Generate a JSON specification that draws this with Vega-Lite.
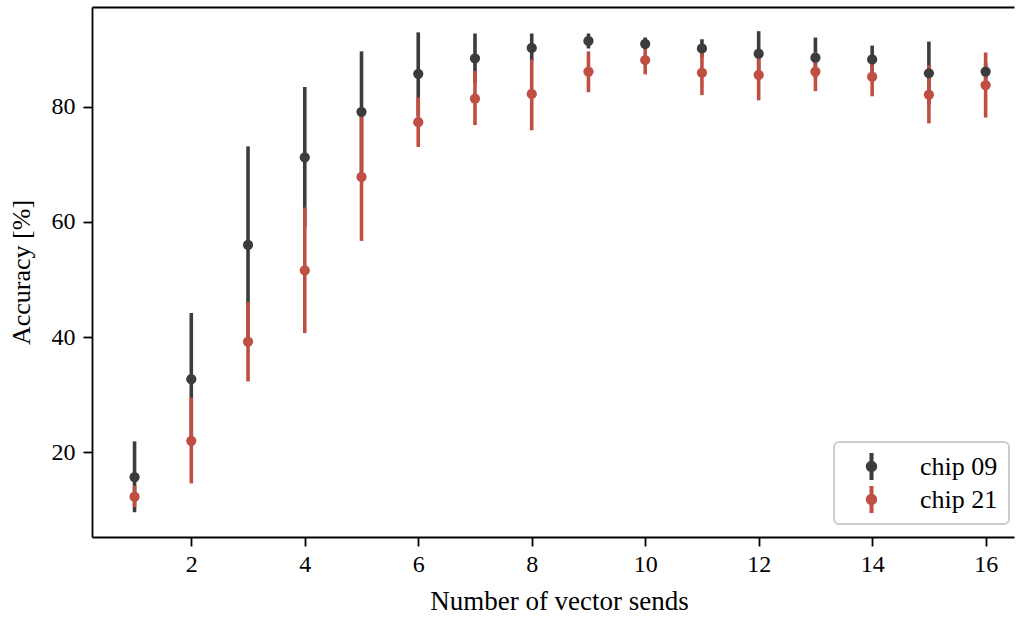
{
  "$schema": "https://vega.github.io/schema/vega-lite/v6.json",
  "autosize": {"type": "none"},
  "padding": {"left": 92, "top": 7, "right": 2, "bottom": 80},
  "width": 922,
  "height": 530,
  "background": "white",
  "config": {
    "view": {"stroke": null},
    "font": "Liberation Serif",
    "axis": {
      "grid": false,
      "domainColor": "black",
      "domainWidth": 1.8,
      "tickColor": "black",
      "tickWidth": 1.8,
      "tickSize": 9,
      "labelFont": "Liberation Serif",
      "labelFontSize": 24,
      "labelColor": "black",
      "titleFont": "Liberation Serif",
      "titleFontSize": 24,
      "titleFontWeight": "normal",
      "titleColor": "black"
    },
    "legend": {
      "labelFont": "Liberation Serif",
      "labelFontSize": 26,
      "labelColor": "black",
      "strokeColor": "#cccccc",
      "strokeWidth": 2,
      "cornerRadius": 5,
      "fillColor": "white",
      "padding": 11,
      "rowPadding": 6
    }
  },
  "data": {
    "values": [
      {"n": 1, "chip": "chip 09", "mean": 15.7, "lo": 9.6, "hi": 21.9},
      {"n": 2, "chip": "chip 09", "mean": 32.7, "lo": 21.2, "hi": 44.2},
      {"n": 3, "chip": "chip 09", "mean": 56.0, "lo": 39.0, "hi": 73.1},
      {"n": 4, "chip": "chip 09", "mean": 71.2, "lo": 59.1, "hi": 83.4},
      {"n": 5, "chip": "chip 09", "mean": 79.1, "lo": 68.6, "hi": 89.6},
      {"n": 6, "chip": "chip 09", "mean": 85.7, "lo": 78.4, "hi": 92.9},
      {"n": 7, "chip": "chip 09", "mean": 88.4, "lo": 84.1, "hi": 92.7},
      {"n": 8, "chip": "chip 09", "mean": 90.2, "lo": 87.8, "hi": 92.7},
      {"n": 9, "chip": "chip 09", "mean": 91.4, "lo": 90.1, "hi": 92.7},
      {"n": 10, "chip": "chip 09", "mean": 90.9, "lo": 89.9, "hi": 92.0},
      {"n": 11, "chip": "chip 09", "mean": 90.1, "lo": 88.5, "hi": 91.7},
      {"n": 12, "chip": "chip 09", "mean": 89.2, "lo": 85.4, "hi": 93.1},
      {"n": 13, "chip": "chip 09", "mean": 88.5, "lo": 85.0, "hi": 92.0},
      {"n": 14, "chip": "chip 09", "mean": 88.2, "lo": 85.7, "hi": 90.6},
      {"n": 15, "chip": "chip 09", "mean": 85.8, "lo": 80.3, "hi": 91.3},
      {"n": 16, "chip": "chip 09", "mean": 86.1, "lo": 84.6, "hi": 87.6},
      {"n": 1, "chip": "chip 21", "mean": 12.3, "lo": 10.5, "hi": 14.2},
      {"n": 2, "chip": "chip 21", "mean": 22.0, "lo": 14.6, "hi": 29.5},
      {"n": 3, "chip": "chip 21", "mean": 39.2, "lo": 32.3, "hi": 46.1},
      {"n": 4, "chip": "chip 21", "mean": 51.6, "lo": 40.7, "hi": 62.5},
      {"n": 5, "chip": "chip 21", "mean": 67.8, "lo": 56.7, "hi": 78.9},
      {"n": 6, "chip": "chip 21", "mean": 77.3, "lo": 73.0, "hi": 81.6},
      {"n": 7, "chip": "chip 21", "mean": 81.4, "lo": 76.8, "hi": 86.2},
      {"n": 8, "chip": "chip 21", "mean": 82.2, "lo": 75.9, "hi": 88.2},
      {"n": 9, "chip": "chip 21", "mean": 86.1, "lo": 82.5, "hi": 89.6},
      {"n": 10, "chip": "chip 21", "mean": 88.1, "lo": 85.6, "hi": 90.0},
      {"n": 11, "chip": "chip 21", "mean": 85.9, "lo": 82.0, "hi": 89.8},
      {"n": 12, "chip": "chip 21", "mean": 85.5, "lo": 81.1, "hi": 89.9},
      {"n": 13, "chip": "chip 21", "mean": 86.1, "lo": 82.7, "hi": 89.5},
      {"n": 14, "chip": "chip 21", "mean": 85.2, "lo": 81.8, "hi": 88.6},
      {"n": 15, "chip": "chip 21", "mean": 82.1, "lo": 77.1, "hi": 87.2},
      {"n": 16, "chip": "chip 21", "mean": 83.75, "lo": 78.1, "hi": 89.4}
    ]
  },
  "resolve": {"axis": {"x": "independent"}},
  "layer": [
    {
      "mark": {"type": "rule", "strokeWidth": 3.6},
      "encoding": {
        "x": {
          "field": "n", "type": "quantitative",
          "scale": {"domain": [0.25, 16.5], "nice": false, "zero": false},
          "axis": {"values": [2, 4, 6, 8, 10, 12, 14, 16], "format": "d", "title": "Number of vector sends", "titleFontSize": 27, "titleX": 467, "labelPadding": 6, "titlePadding": 12}
        },
        "y": {
          "field": "lo", "type": "quantitative",
          "scale": {"domain": [5.3, 97.3], "nice": false, "zero": false},
          "axis": {"values": [20, 40, 60, 80], "title": "Accuracy [%]", "titleFontSize": 26, "labelPadding": 8, "titlePadding": 17}
        },
        "y2": {"field": "hi"},
        "color": {
          "field": "chip", "type": "nominal",
          "scale": {"domain": ["chip 09", "chip 21"], "range": ["#3c3c3c", "#c04f43"]},
          "legend": {
            "title": null,
            "orient": "none",
            "legendX": 742,
            "legendY": 435,
            "symbolType": "M -0.15 -1 L 0.15 -1 L 0.15 1 L -0.15 1 Z M 0.42 0 A 0.42 0.42 0 1 1 -0.42 0 A 0.42 0.42 0 1 1 0.42 0 Z",
            "symbolSize": 729,
            "symbolStrokeWidth": 0,
            "symbolOffset": 13,
            "labelOffset": 35
          }
        }
      }
    },
    {
      "mark": {"type": "point", "filled": true, "opacity": 1, "size": 105},
      "encoding": {
        "x": {
          "field": "n", "type": "quantitative",
          "axis": {"orient": "top", "labels": false, "ticks": false, "title": null, "domain": true}
        },
        "y": {"field": "mean", "type": "quantitative"},
        "color": {"field": "chip", "type": "nominal"}
      }
    }
  ]
}
